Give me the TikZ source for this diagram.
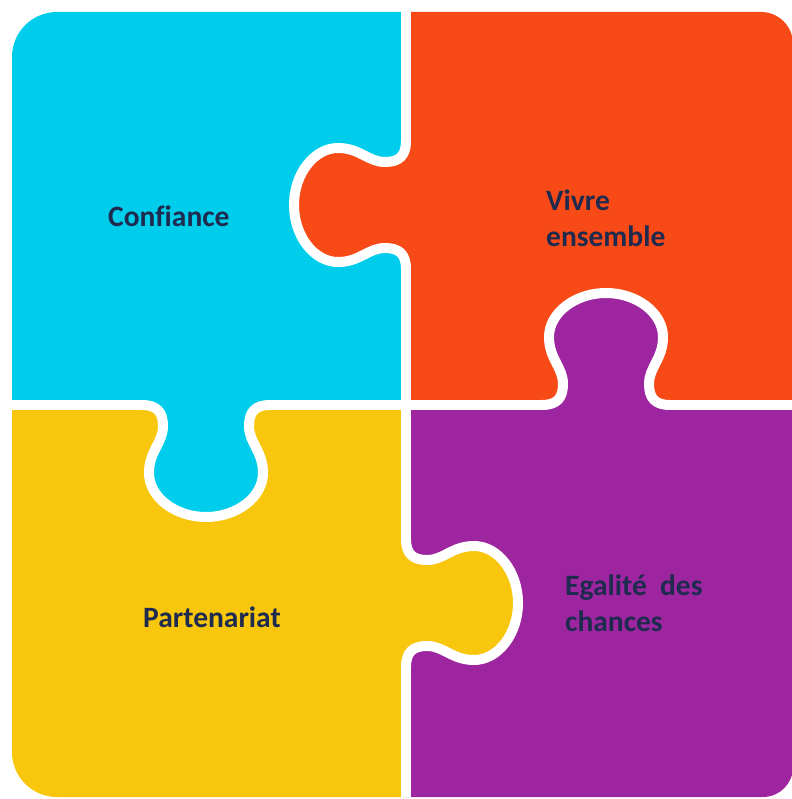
\documentclass[tikz,border=0pt]{standalone}
\usepackage{fontspec}
\setmainfont{Carlito}[Ligatures=NoCommon]
\definecolor{pzcyan}{HTML}{00CDEB}
\definecolor{pzorange}{HTML}{F84A16}
\definecolor{pzyellow}{HTML}{F8C70D}
\definecolor{pzpurple}{HTML}{9D26A0}
\definecolor{pztext}{HTML}{1E2A4E}
\tikzset{
  knobpath/.style={insert path={(-64,0) .. controls (-49,0) and (-43,7) .. (-43,21) .. controls (-43,38) and (-57,46) .. (-57,68) .. controls (-57,92) and (-31,112) .. (0,112) .. controls (31,112) and (57,92) .. (57,68) .. controls (57,46) and (43,38) .. (43,21) .. controls (43,7) and (49,0) .. (64,0)}},
  knobfill/.style={knobpath},
  gap/.style={draw=white, line width=10pt, line cap=round, line join=round},
  pztxt/.style={font=\fontsize{29.5}{36}\selectfont\bfseries, text=pztext, align=left, inner sep=0pt, anchor=base west},
}
\begin{document}
\begin{tikzpicture}[x=1pt,y=-1pt]
\useasboundingbox (0,0) rectangle (791,799);
\begin{scope}
\clip (57,12) -- (761,12) arc[start angle=-90,end angle=0,radius=32] -- (793,767) arc[start angle=0,end angle=90,radius=30] -- (57,797) arc[start angle=90,end angle=180,radius=45] -- (12,57) arc[start angle=180,end angle=270,radius=45] -- cycle;
\fill[pzcyan] (0,0) rectangle (406,405);
\fill[pzorange] (406,0) rectangle (800,405);
\fill[pzyellow] (0,405) rectangle (406,800);
\fill[pzpurple] (406,405) rectangle (800,800);
% knob 1: orange into cyan
\begin{scope}[shift={(406,205)}, x={(0pt,-1pt)}, y={(-1pt,0pt)}]
  \fill[pzorange, knobfill] -- (64,-20) -- (-64,-20) -- cycle;
  \draw[gap, knobpath];
\end{scope}
% knob 4: yellow into purple
\begin{scope}[shift={(406,603)}, x={(0pt,-1pt)}, y={(1pt,0pt)}]
  \fill[pzyellow, knobfill] -- (64,-20) -- (-64,-20) -- cycle;
  \draw[gap, knobpath];
\end{scope}
% knob 2: cyan into yellow
\begin{scope}[shift={(206,405)}, x={(1pt,0pt)}, y={(0pt,-1pt)}]
  \fill[pzcyan, knobfill] -- (64,-20) -- (-64,-20) -- cycle;
  \draw[gap, knobpath];
\end{scope}
% knob 3: purple into orange
\begin{scope}[shift={(606,405)}, x={(1pt,0pt)}, y={(0pt,1pt)}]
  \fill[pzpurple, knobfill] -- (64,-20) -- (-64,-20) -- cycle;
  \draw[gap, knobpath];
\end{scope}
% straight gaps
\draw[gap] (406,-10) -- (406,141);
\draw[gap] (406,269) -- (406,539);
\draw[gap] (406,667) -- (406,810);
\draw[gap] (-10,405) -- (142,405);
\draw[gap] (270,405) -- (542,405);
\draw[gap] (670,405) -- (810,405);
\end{scope}
\node[pztxt] (t1) at (108,227) {Confiance};
\node[pztxt] (t2) at (546,247) {Vivre\\ensemble};
\node[pztxt] (t3) at (143,627) {Partenariat};
\node[pztxt] (t4) at (565,631) {Egalité\hspace{0.45em}des\\chances};
\end{tikzpicture}
\end{document}
